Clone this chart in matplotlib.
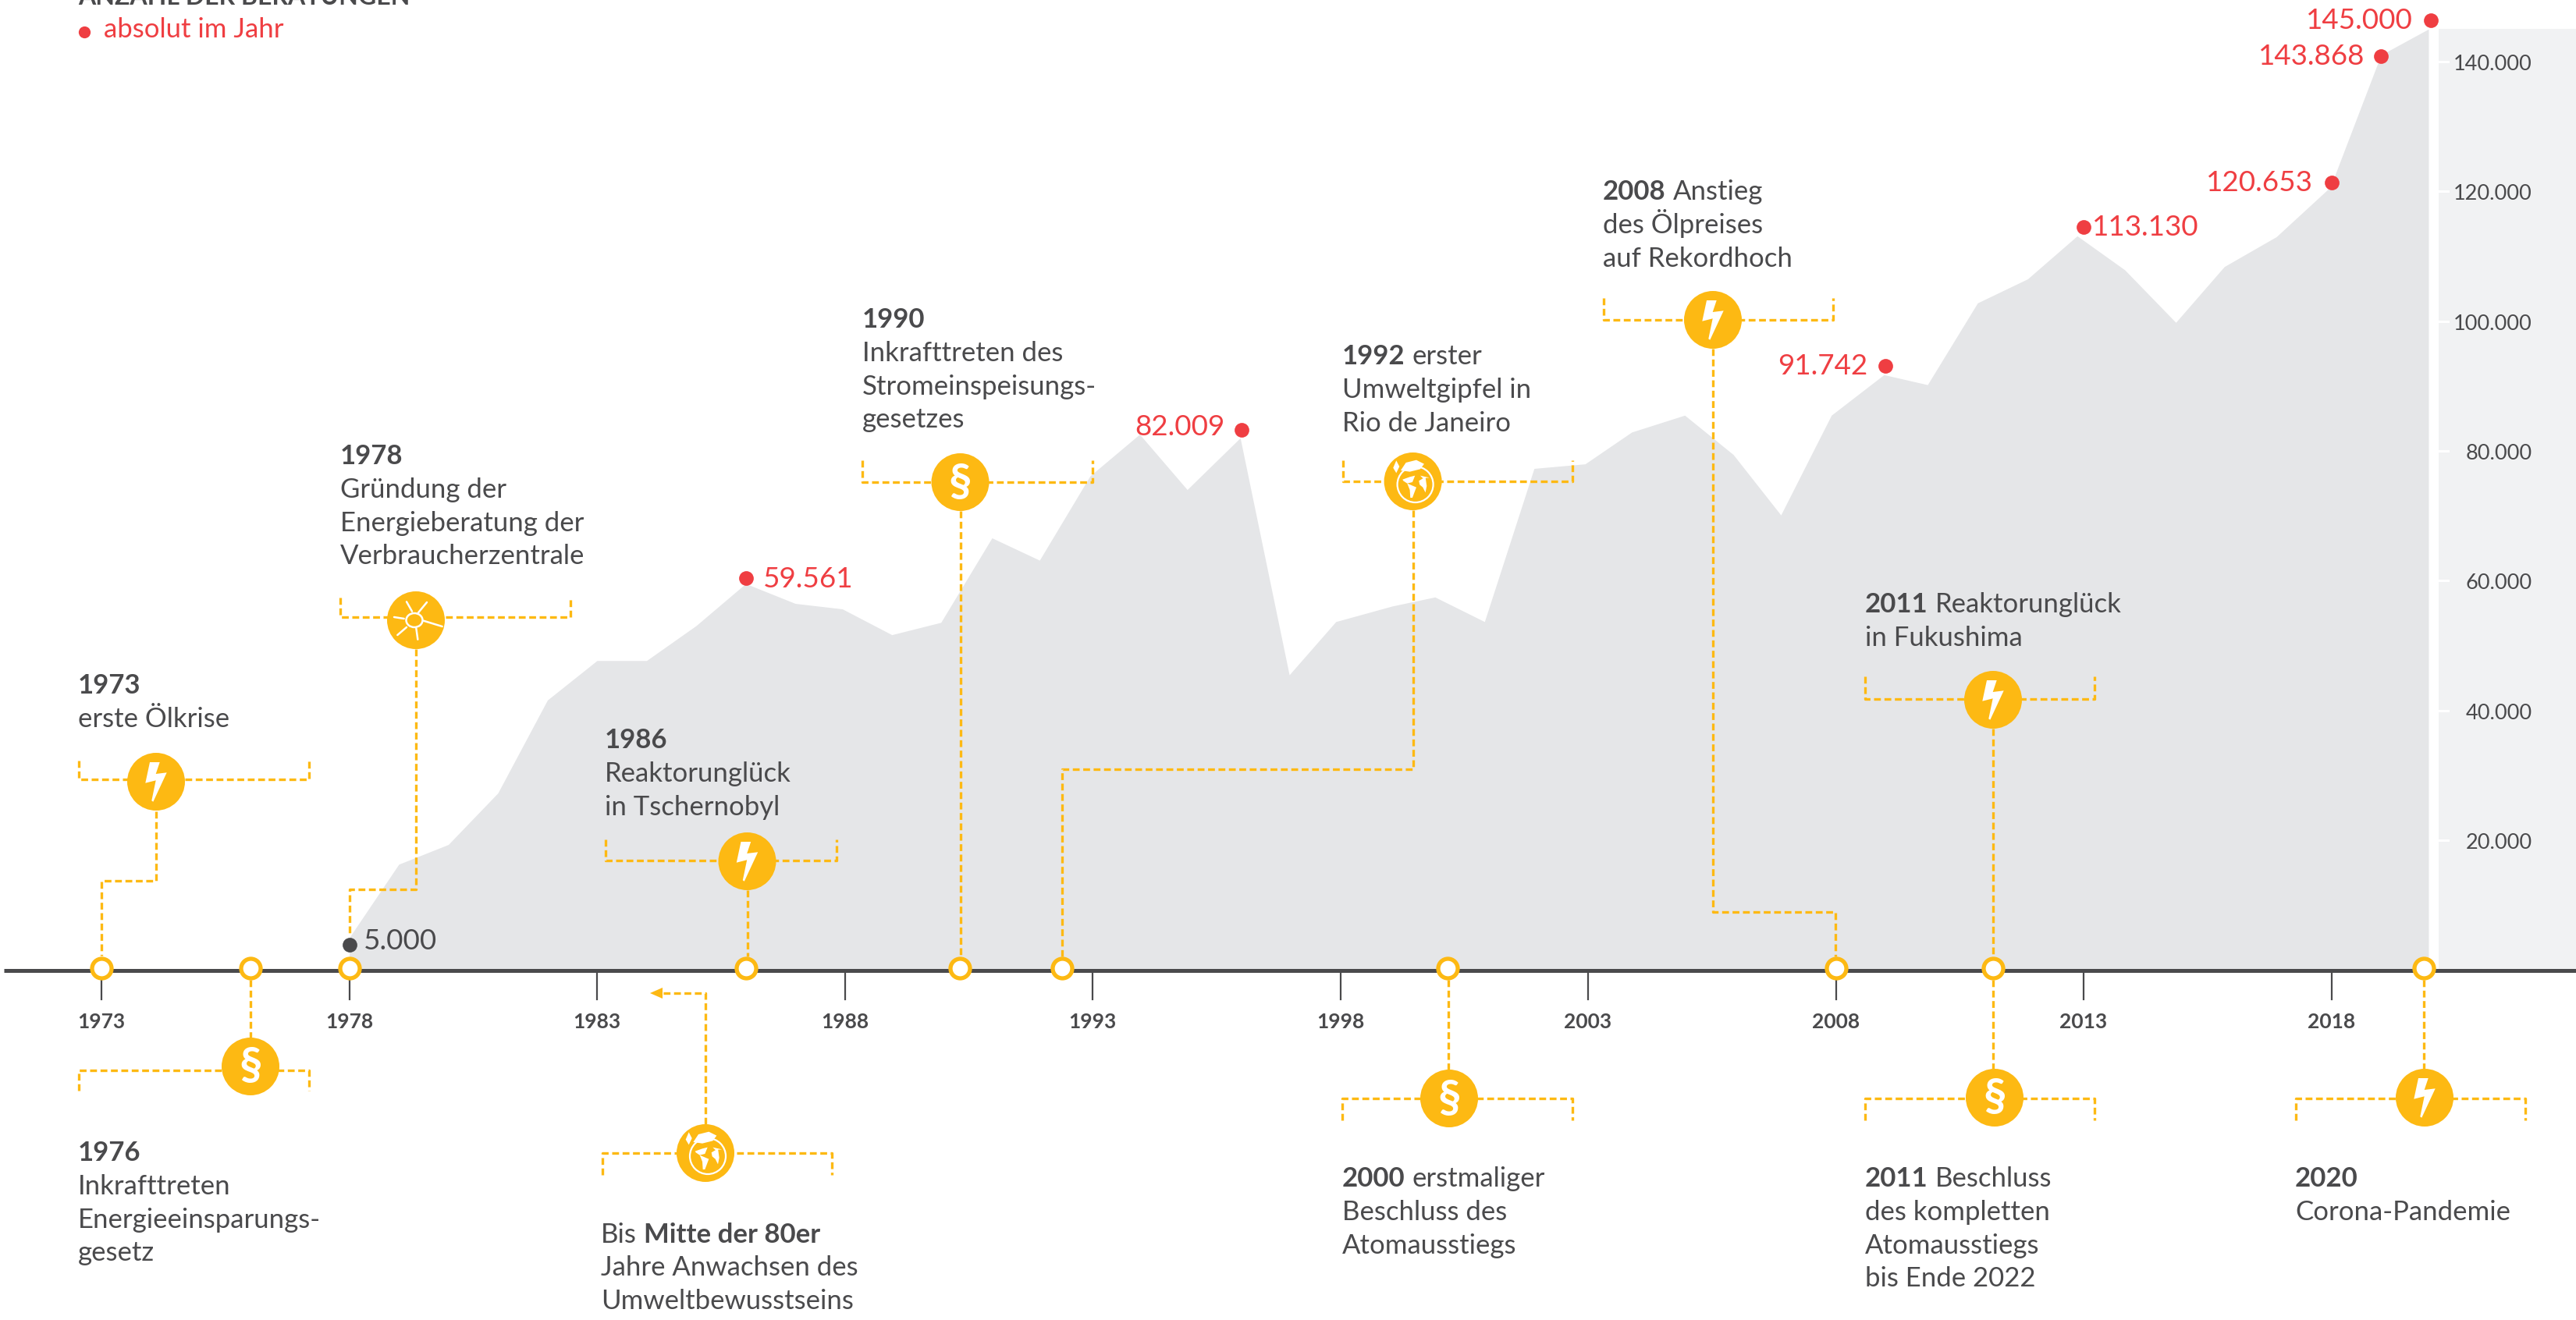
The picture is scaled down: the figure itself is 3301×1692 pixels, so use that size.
import numpy as np
import matplotlib
matplotlib.use("Agg")
import matplotlib.pyplot as plt
from matplotlib.patches import Circle, Polygon, Ellipse, Rectangle

plt.rcParams['font.family'] = ['Lato', 'DejaVu Sans']
plt.rcParams['lines.scale_dashes'] = False

# Beratungen pro Jahr (Flaeche)
area_years = [1978, 1979, 1980, 1981, 1982, 1983, 1984, 1985, 1986, 1987, 1987.95, 1988.95,
              1989.94, 1990.97, 1991.93, 1992.95, 1993.95, 1994.91, 1995.98, 1996.97,
              1997.91, 1999.05, 1999.91, 2000.91, 2001.91, 2002.94, 2003.88, 2004.95,
              2005.93, 2006.89, 2007.91, 2008.97, 2009.85, 2010.86, 2011.87, 2012.87,
              2013.83, 2014.86, 2015.84, 2016.89, 2017.98, 2019, 2019.96]
area_values = [5000, 16320, 19360, 27300, 41620, 47700, 47700, 53080, 59561, 56500, 55660, 51680,
               53580, 66600, 63160, 76150, 82570, 74040, 82009, 45500,
               53700, 56100, 57490, 53700, 77300, 78000, 82900, 85500,
               79440, 70130, 85500, 91742, 90200, 102800, 106500, 113130,
               107900, 99800, 108400, 113000, 120653, 141000, 145000]

# rote Punkte
dot_years = [1986, 1996, 2009, 2013, 2018, 2019, 2020]
dot_values = [60350, 83280, 93050, 114500, 121400, 140870, 146340]
dot_labels = ['59.561', '82.009', '91.742', '113.130', '120.653', '143.868', '145.000']
dot_label_x = [978, 1569, 2393, 2681, 2964, 3030, 3092]
dot_label_y = [740, 545, 467, 289, 232, 70, 24]
dot_label_ha = ['left', 'right', 'right', 'left', 'right', 'right', 'right']

x_ticks = [1973, 1978, 1983, 1988, 1993, 1998, 2003, 2008, 2013, 2018]
y_ticks = [20000, 40000, 60000, 80000, 100000, 120000, 140000]
y_labels = ['20.000', '40.000', '60.000', '80.000', '100.000', '120.000', '140.000']

event_years = [1973, 1976, 1978, 1986, 1990.33, 1992.39, 2000.17, 2008, 2011.17, 2019.87]

GREY = '#E5E6E8'
DARK = '#4A4A4C'
RED = '#EF3E42'
YEL = '#FDB913'
PX_YEAR = 63.5
PX_VALUE = 166.4 / 20000
X0 = 130
Y0 = 1243.6
FS = 25


def year_px(y):
    return X0 + (y - 1973) * PX_YEAR


fig = plt.figure(figsize=(33.01, 16.92), dpi=100)
ax = fig.add_axes([0, 0, 1, 1])
ax.set_xlim(1973 - X0 / PX_YEAR, 1973 + (3301 - X0) / PX_YEAR)
ax.set_ylim(-(1692 - Y0) / PX_VALUE, Y0 / PX_VALUE)
ax.axis('off')

# ueberlagerte Achse in Pixeln fuer Beschriftungen
pa = fig.add_axes([0, 0, 1, 1])
pa.set_xlim(0, 3301)
pa.set_ylim(1692, 0)
pa.axis('off')
pa.patch.set_alpha(0)

ax.add_patch(Rectangle((2020.165, 0), 3, 145000, color='#F1F2F3', lw=0, zorder=1))
ax.fill_between(area_years, 0, area_values, color=GREY, lw=0, zorder=2)

for v, lab in zip(y_ticks, y_labels):
    py = Y0 - v * PX_VALUE
    pa.plot([3125, 3137], [py, py], color='white', lw=2.2)
    pa.text(3245, py + 11, lab, ha='right', va='baseline', fontsize=19.5, color=DARK)

for t in x_ticks:
    px = year_px(t)
    pa.plot([px, px], [Y0, 1281], color=DARK, lw=1.6, zorder=3)
    pa.text(px, 1318, str(t), ha='center', va='baseline', fontsize=19, fontweight='bold', color=DARK)

pa.plot([5, 3301], [Y0, Y0], color=DARK, lw=3.6, solid_capstyle='butt', zorder=4)

# Datenpunkte
ax.plot(dot_years, dot_values, 'o', color=RED, ms=13.5, mew=0, zorder=5)
for x, y, lab, ha in zip(dot_label_x, dot_label_y, dot_labels, dot_label_ha):
    pa.text(x, y + 13, lab, ha=ha, va='baseline', fontsize=26.5, color=RED)
pa.plot([448], [1211], 'o', color=DARK, ms=13.5, mew=0, zorder=5)
pa.text(466, 1217, '5.000', ha='left', va='baseline', fontsize=26.5, color=DARK)

# Legende oben
pa.text(100, 6, 'ANZAHL DER BERATUNGEN', fontsize=23, fontweight='bold', color=DARK, va='baseline')
pa.plot([108], [41], 'o', color=RED, ms=11, mew=0)
pa.text(133, 48, 'absolut im Jahr', fontsize=FS, color=RED, va='baseline')


def dashed(xs, ys):
    pa.plot(xs, ys, color=YEL, lw=2.4, ls=(0, (6.3, 3.3)), zorder=6, solid_joinstyle='miter')


def bolt(cx, cy):
    pts = [(-8, -25), (4.7, -25), (-0.3, -10), (13.7, -11.7), (-3.7, 25.7), (-5.7, 24.3), (-0.3, -1.7), (-13.7, 1.7)]
    pa.add_patch(Polygon([(cx + a, cy + b) for a, b in pts], color='white', lw=0, zorder=8))


def para(cx, cy):
    pa.text(cx, cy + 1, '§', ha='center', va='center', fontsize=42, fontweight='bold', color='white', zorder=8)


def sun(cx, cy):
    rays = [((245, 155), (266, 192)), ((323, 157), (290, 197)), ((197, 214), (235, 220)),
            ((245, 253), (210, 283)), ((282, 257), (288, 300)), ((310, 228), (382, 250))]
    for a, b in rays:
        pa.plot([cx + (a[0] - 281) / 3, cx + (b[0] - 281) / 3], [cy + (a[1] - 226) / 3, cy + (b[1] - 226) / 3],
                color='white', lw=1.8, solid_capstyle='round', zorder=8)
    pa.add_patch(Ellipse((cx - 2, cy), 21, 18, fc='none', ec='white', lw=1.8, zorder=8))


def globe(cx, cy):
    pa.add_patch(Circle((cx + 3, cy + 4), 23, fc='none', ec='white', lw=1.6, zorder=8))
    shapes = [
        [(112, 165), (140, 155), (160, 150), (150, 175), (130, 180), (115, 170)],
        [(130, 180), (165, 195), (150, 235), (142, 235), (140, 205)],
        [(175, 170), (200, 155), (205, 190), (200, 215), (190, 195), (178, 185)],
        [(180, 150), (215, 158), (190, 160)],
        [(105, 130), (125, 100), (165, 90), (195, 105), (180, 125), (140, 135)],
        [(88, 92), (100, 115), (88, 140), (76, 120)],
    ]
    for s in shapes:
        pa.add_patch(Polygon([(cx + (a - 152) / 3, cy + (b - 172) / 3) for a, b in s], color='white', lw=0, zorder=8))


icons = {'bolt': bolt, 'para': para, 'sun': sun, 'globe': globe}


def bracket(x1, x2, y, tick_y):
    dashed([x1, x1, x2, x2], [tick_y, y, y, tick_y])


def icon(kind, cx, cy):
    pa.add_patch(Circle((cx, cy), 37, color=YEL, lw=0, zorder=7))
    icons[kind](cx, cy)


def block(x, base, first_bold, first_rest, lines):
    t = pa.text(x, base, first_bold, fontsize=FS, fontweight='bold', color=DARK, va='baseline')
    if first_rest:
        fig.canvas.draw()
        bb = t.get_window_extent()
        pa.text(bb.x1 + 9, base, first_rest, fontsize=FS, color=DARK, va='baseline')
    for i, l in enumerate(lines):
        pa.text(x, base + 42.8 * (i + 1), l, fontsize=FS, color=DARK, va='baseline')


# kind, icon x, icon y, bracket x1, bracket x2, bracket y, tick y, connector xs, ys
callouts = [
    ('bolt', 200, 1002, 101, 396, 999, 975, [200, 200, 130, 130], [1040, 1129, 1129, 1225]),
    ('para', 321, 1367, 101, 396, 1372, 1398, [321, 321], [1256, 1330]),
    ('sun', 533, 795, 436, 731, 791, 766, [533, 533, 448, 448], [832, 1140, 1140, 1200]),
    ('bolt', 957.5, 1104, 776, 1072, 1103, 1076, [957.5, 957.5], [1141, 1226]),
    ('para', 1230.5, 618, 1105, 1400, 618, 590, [1230.5, 1230.5], [655, 1226]),
    ('globe', 1810.6, 617, 1721, 2015, 617, 590, [1810.6, 1810.6, 1361, 1361], [654, 986, 986, 1226]),
    ('para', 1857, 1408, 1720, 2015, 1408, 1436, [1855.5, 1855.5], [1256, 1371]),
    ('bolt', 2195, 410, 2055, 2349, 410, 382, [2195, 2195, 2352, 2352], [447, 1169, 1169, 1226]),
    ('bolt', 2554, 897, 2390, 2684, 896, 867, [2554, 2554], [934, 1226]),
    ('para', 2556, 1407, 2390, 2684, 1408, 1436, [2554, 2554], [1256, 1370]),
    ('bolt', 3107, 1407, 2942, 3236, 1408, 1436, [3106, 3106], [1256, 1370]),
    ('globe', 904, 1478, 772, 1066, 1478, 1506, [904, 904, 845], [1441, 1273, 1273]),
]
for kind, cx, cy, x1, x2, by, ty, cxs, cys in callouts:
    bracket(x1, x2, by, ty)
    dashed(cxs, cys)
    icon(kind, cx, cy)

pa.add_patch(Polygon([(833, 1273), (849, 1266), (849, 1280)], color=YEL, lw=0, zorder=6))

# Ereignispunkte auf der Zeitachse
pa.plot([year_px(e) for e in event_years], [1241.5] * len(event_years), 'o', ms=18, mfc='white', mec=YEL, mew=3.8, zorder=9)

# Textbloecke
block(100, 889, '1973', '', ['erste Ölkrise'])
block(436, 595, '1978', '', ['Gründung der', 'Energieberatung der', 'Verbraucherzentrale'])
block(775, 959, '1986', '', ['Reaktorunglück', 'in Tschernobyl'])
block(1105, 420, '1990', '', ['Inkrafttreten des', 'Stromeinspeisungs-', 'gesetzes'])
block(1720, 467, '1992', 'erster', ['Umweltgipfel in', 'Rio de Janeiro'])
block(2054, 256, '2008', 'Anstieg', ['des Ölpreises', 'auf Rekordhoch'])
block(2390, 785, '2011', 'Reaktorunglück', ['in Fukushima'])
block(100, 1488, '1976', '', ['Inkrafttreten', 'Energieeinsparungs-', 'gesetz'])
t = pa.text(770, 1593, 'Bis', fontsize=FS, color=DARK, va='baseline')
fig.canvas.draw()
pa.text(t.get_window_extent().x1 + 9, 1593, 'Mitte der 80er', fontsize=FS, fontweight='bold', color=DARK, va='baseline')
pa.text(770, 1635, 'Jahre Anwachsen des', fontsize=FS, color=DARK, va='baseline')
pa.text(770, 1678, 'Umweltbewusstseins', fontsize=FS, color=DARK, va='baseline')
block(1720, 1521, '2000', 'erstmaliger', ['Beschluss des', 'Atomausstiegs'])
block(2390, 1521, '2011', 'Beschluss', ['des kompletten', 'Atomausstiegs', 'bis Ende 2022'])
block(2941, 1521, '2020', '', ['Corona-Pandemie'])

fig.savefig('out.png', dpi=100, facecolor='white')
